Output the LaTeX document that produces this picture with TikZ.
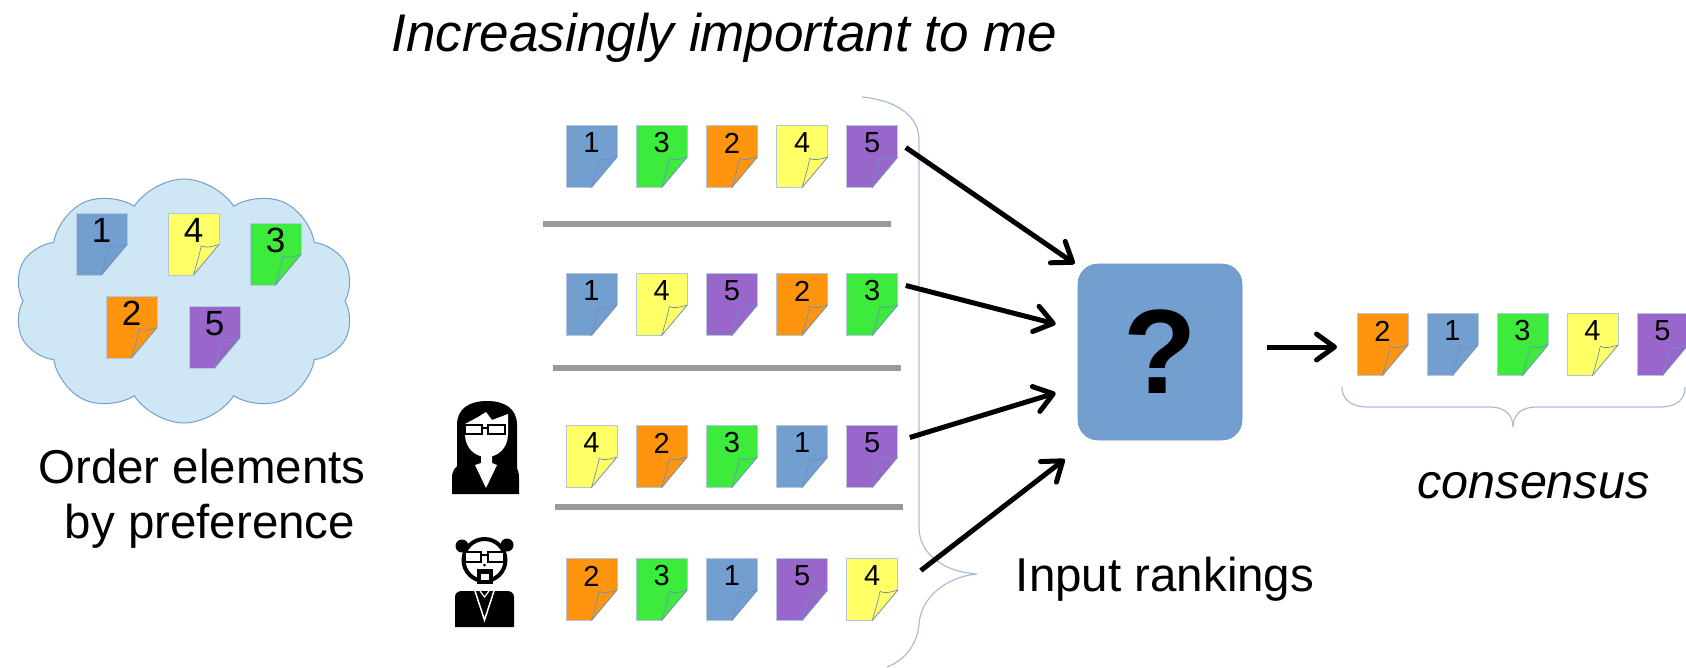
\documentclass[tikz,border=0pt]{standalone}
\usepackage{fontspec}
\setmainfont{Liberation Sans}
\usetikzlibrary{arrows.meta,calc,shapes.symbols}

% sticky-note colours, one per element
\definecolor{note1}{HTML}{729FCF}
\definecolor{note2}{HTML}{FF950E}
\definecolor{note3}{HTML}{3DEB3D}
\definecolor{note4}{HTML}{FFFF66}
\definecolor{note5}{HTML}{9966CC}
\definecolor{noteedge}{HTML}{B4C7DC}
\definecolor{foldline}{HTML}{6F8FBF}
\definecolor{cloudfill}{HTML}{CFE7F5}
\definecolor{cloudedge}{HTML}{729FCF}
\definecolor{bracecol}{HTML}{A9BCD8}
\definecolor{rulegray}{HTML}{999999}
\definecolor{boxblue}{HTML}{729FCF}

\tikzset{
  rowdigit/.style={font=\fontsize{29pt}{30pt}\selectfont, inner sep=0},
  pooldigit/.style={font=\fontsize{35pt}{36pt}\selectfont, inner sep=0},
  pics/sticky/.style 2 args={code={
    \fill[note#1] (0,0) -- (51,0) -- (51,31.6) -- (25.5,62) -- (0,62) -- cycle;
    \draw[noteedge, line width=0.9pt, line join=round] (51,31.6) -- (51,0) -- (0,0) -- (0,62) -- (25.5,62);
    \draw[foldline, line width=0.8pt] (51,31.6) -- (25.5,62);
    \draw[foldline, line width=0.7pt] (33.2,32.9) .. controls (38,35.6) and (44,33.4) .. (51,31.6);
    \draw[foldline, line width=0.7pt] (33.2,32.9) .. controls (31,44) and (28,53) .. (25.5,62);
    \node[#2] at (25.5,17.5) {#1};
    \node[inner sep=0, outer sep=0, minimum width=51, minimum height=62, anchor=north west] (-n) at (0,0) {};
  }},
  lbl/.style={font=\fontsize{47.5pt}{56pt}\selectfont, inner sep=0, anchor=base},
  lblit/.style={font=\fontsize{48.5pt}{56pt}\selectfont\itshape, inner sep=0, anchor=base},
  lbltitle/.style={font=\fontsize{53pt}{60pt}\selectfont\itshape, inner sep=0, anchor=base},
  rule/.style={rulegray, line width=6pt},
  brace/.style={bracecol, line width=1.2pt},
  arr/.style={line width=5pt, -{Straight Barb[length=18pt,width=26pt,round]}},
  icon/.style={fill=black},
}

\begin{document}
\begin{tikzpicture}[x=1pt,y=-1pt]
\useasboundingbox (0,0) rectangle (1686,667);

% title
\node[lbltitle] (title) at (724.5,51) {Increasingly important to me};

% pool of elements
\node[cloud, cloud puffs=10, cloud puff arc=115, cloud ignores aspect,
      draw=cloudedge, fill=cloudfill, line width=1pt,
      minimum width=340, minimum height=244, inner sep=0] (pool) at (184,301) {};
\pic (p1) at (76,213)  {sticky={1}{pooldigit}};
\pic (p4) at (168,213) {sticky={4}{pooldigit}};
\pic (p3) at (250,223) {sticky={3}{pooldigit}};
\pic (p2) at (106,296) {sticky={2}{pooldigit}};
\pic (p5) at (189,306) {sticky={5}{pooldigit}};
\node[lbl] (ord1) at (202,483) {Order elements};
\node[lbl] (ord2) at (210,538.5) {by preference};

% four input rankings
\foreach \d [count=\i] in {1,3,2,4,5}
  \pic (ra\i) at ({566+70.2*(\i-1)},125.5) {sticky={\d}{rowdigit}};
\foreach \d [count=\i] in {1,4,5,2,3}
  \pic (rb\i) at ({566+70.2*(\i-1)},273.5) {sticky={\d}{rowdigit}};
\foreach \d [count=\i] in {4,2,3,1,5}
  \pic (rc\i) at ({566+70.2*(\i-1)},425.5) {sticky={\d}{rowdigit}};
\foreach \d [count=\i] in {2,3,1,5,4}
  \pic (rd\i) at ({566+70.2*(\i-1)},558.5) {sticky={\d}{rowdigit}};

% separators between rankings
\draw[rule] (543,224) -- (891,224);
\draw[rule] (553,368) -- (901,368);
\draw[rule] (555,507) -- (903,507);

% brace grouping the rankings
\draw[brace] (862,97) .. controls (895,100) and (919,115) .. (919,140) -- (919,527)
  .. controls (919,555) and (945,572) .. (977,574)
  .. controls (945,577) and (921,598) .. (919,624)
  .. controls (917,645) and (905,660) .. (887,667);
\node[lbl] (inp) at (1165,591) {Input rankings};

% woman
\fill[icon] (457,470) -- (457,425) .. controls (457,408) and (470,401) .. (487,401)
  .. controls (504,401) and (517,408) .. (517,425) -- (517,470) -- cycle;
\fill[icon] (452,494) -- (452,478) .. controls (452,468) and (458,464) .. (468,462)
  -- (506,462) .. controls (515,464) and (519,468) .. (519,478) -- (519,494) -- cycle;
\fill[white] (465,424) -- (478,417) -- (486,412) -- (492,420) -- (508,414) -- (508,434)
  .. controls (508,448) and (498,457) .. (486.5,457) .. controls (475,457) and (465,448) .. (465,434) -- cycle;
\fill[white] (481,455) -- (481,463) -- (475,465) -- (486,488) -- (497,465) -- (492,463) -- (492,455) -- cycle;
\draw[black, line width=2.2pt, fill=white] (465,425) rectangle (482,434);
\draw[black, line width=2.2pt, fill=white] (488,425) rectangle (505,434);
\draw[black, line width=2pt] (482,428) -- (488,428);

% man
\fill[icon] (462,546) circle (6.5);
\fill[icon] (507,545) circle (6.5);
\draw[black, line width=4pt, fill=white] (484.5,560) circle (21);
\draw[black, line width=2.2pt, fill=white] (465,552) rectangle (481,562);
\draw[black, line width=2.2pt, fill=white] (488,552) rectangle (504,562);
\draw[black, line width=2pt] (481,555) -- (488,555);
\fill[icon] (484.5,565) circle (1.5);
\fill[icon] (476.5,569) rectangle (492.5,584);
\fill[white] (480.5,574) rectangle (488.5,580);
\fill[icon] (455,627) -- (455,597) .. controls (455,593) and (458,591) .. (462,591)
  -- (507,591) .. controls (511,591) and (514,593) .. (514,597) -- (514,627) -- cycle;
\draw[white, line width=1.5pt] (475,591) -- (484.5,620) -- (494,591);
\draw[white, line width=1.2pt] (480,591) -- (484.5,597) -- (489,591);

% aggregation box
\node[draw=boxblue!90!black, line width=0.6pt, fill=boxblue, rounded corners=20pt,
      minimum width=164, minimum height=176, inner sep=0,
      font=\fontsize{120pt}{120pt}\selectfont\bfseries] (agg) at (1160,352) {?};

% arrows from the rankings into the box
\coordinate (ta) at ($(ra5-n.north east)+(8,22)$);
\coordinate (tb) at ($(rb5-n.north east)+(8,12)$);
\coordinate (tc) at ($(rc5-n.north east)+(12,12)$);
\coordinate (td) at ($(rd5-n.north east)+(23,12)$);
\coordinate (ha) at ($(agg.north west)+(-3,0)$);
\coordinate (hb) at ($(agg.west)+(-22,-28)$);
\coordinate (hc) at ($(agg.west)+(-22,41)$);
\coordinate (hd) at ($(agg.south west)+(-13,19)$);
\draw[arr] (ta) -- (ha);
\draw[arr] (tb) -- (hb);
\draw[arr] (tc) -- (hc);
\draw[arr] (td) -- (hd);

% consensus ranking
\coordinate (out) at ($(agg.east)+(25,-5)$);
\foreach \d [count=\i] in {2,1,3,4,5}
  \pic (k\i) at ({1357+70*(\i-1)},313.5) {sticky={\d}{rowdigit}};
\draw[arr] (out) -- ($(k1-n.west)+(-20,2.5)$);
\draw[brace] (1342,387) .. controls (1342,400) and (1352,407) .. (1368,407) -- (1490,407)
  .. controls (1505,407) and (1513,415) .. (1513,427)
  .. controls (1513,415) and (1521,407) .. (1536,407) -- (1660,407)
  .. controls (1676,407) and (1685,400) .. (1685,387);
\node[lblit] (cons) at (1533.5,498) {consensus};
\end{tikzpicture}
\end{document}
